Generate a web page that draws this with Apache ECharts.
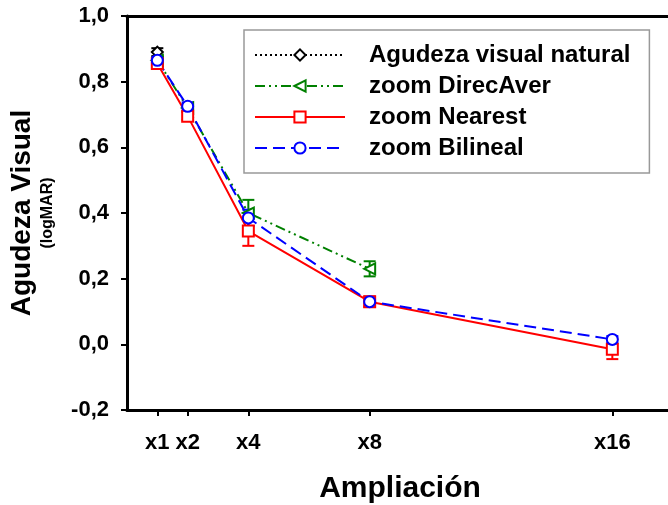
<!DOCTYPE html>
<html>
<head>
<meta charset="utf-8">
<script src="https://cdn.jsdelivr.net/npm/echarts@6/dist/echarts.min.js"></script>
<style>
html, body { margin: 0; padding: 0; background: #fff; }
#main { width: 668px; height: 505px; }
</style>
</head>
<body>
<div id="main"></div>
<script>
// magnification levels (x axis)
var xVals = [1, 2, 4, 8, 16];
var xTicks = [1, 2, 4, 8, 16];
var yTicks = [-0.2, 0, 0.2, 0.4, 0.6, 0.8, 1.0];

// mean logMAR and error (half bar) per series
var naturalY = [0.89];
var naturalErr = [0.012];
var direcY = [0.865, 0.72, 0.40, 0.23];
var direcErr = [0.01, 0.012, 0.04, 0.023];
var nearestY = [0.855, 0.695, 0.345, 0.13, -0.015];
var nearestErr = [0.01, 0.012, 0.045, 0.015, 0.03];
var bilinY = [0.865, 0.725, 0.385, 0.13, 0.015];
var bilinErr = [0.01, 0.012, 0.025, 0.015, 0.01];

var FONT = 'Liberation Sans';

function pts(ys) {
    return ys.map(function (y, i) { return [xVals[i], y]; });
}
function errPts(ys, es) {
    return ys.map(function (y, i) { return [xVals[i], y, es[i]]; });
}

function errSeries(ys, es, color) {
    return {
        type: 'custom',
        silent: true,
        z: 1,
        data: errPts(ys, es),
        renderItem: function (params, api) {
            var x = api.value(0), y = api.value(1), e = api.value(2);
            var top = api.coord([x, y + e]);
            var bot = api.coord([x, y - e]);
            var w = 6;
            var st = { stroke: color, lineWidth: 2 };
            return {
                type: 'group',
                children: [
                    { type: 'line', shape: { x1: top[0], y1: top[1], x2: bot[0], y2: bot[1] }, style: st },
                    { type: 'line', shape: { x1: top[0] - w, y1: top[1], x2: top[0] + w, y2: top[1] }, style: st },
                    { type: 'line', shape: { x1: bot[0] - w, y1: bot[1], x2: bot[0] + w, y2: bot[1] }, style: st }
                ]
            };
        }
    };
}

function lineSeries(name, ys, color, dash, symbol, rot) {
    return {
        name: name,
        type: 'line',
        data: pts(ys),
        symbol: symbol,
        symbolSize: 11,
        symbolRotate: rot || 0,
        showAllSymbol: true,
        z: 3,
        lineStyle: { color: color, width: 2, type: dash },
        itemStyle: { color: '#fff', borderColor: color, borderWidth: 2 }
    };
}

var chart = echarts.init(document.getElementById('main'));

var option = {
    animation: false,
    backgroundColor: '#fff',
    grid: { left: 127, right: -5, top: 16, bottom: 95, outerBoundsMode: 'none', containLabel: false },
    legend: {
        left: 244,
        top: 30,
        orient: 'vertical',
        itemWidth: 90,
        itemHeight: 14,
        itemGap: 7,
        padding: [13, 19, 13, 10],
        borderColor: '#999',
        borderWidth: 1.5,
        textStyle: { fontFamily: FONT, fontWeight: 'bold', fontSize: 24, color: '#000', padding: [0, 0, 0, 19] },
        data: ['Agudeza visual natural', 'zoom DirecAver', 'zoom Nearest', 'zoom Bilineal']
    },
    xAxis: [{
        type: 'value',
        min: 0,
        max: 18,
        splitLine: { show: false },
        axisLine: { onZero: false, lineStyle: { color: '#000', width: 3 } },
        axisTick: { customValues: xTicks, length: 6, lineStyle: { color: '#000', width: 2 } },
        axisLabel: {
            customValues: xTicks,
            formatter: function (v) { return 'x' + v; },
            fontFamily: FONT, fontWeight: 'bold', fontSize: 22, color: '#000', margin: 22
        },
        name: 'Ampliación',
        nameLocation: 'middle',
        nameGap: 64,
        nameTextStyle: { fontFamily: FONT, fontWeight: 'bold', fontSize: 30, color: '#000' }
    }, {
        type: 'value',
        position: 'top',
        min: 0,
        max: 18,
        splitLine: { show: false },
        axisLine: { show: true, onZero: false, lineStyle: { color: '#000', width: 3 } },
        axisTick: { show: false },
        axisLabel: { show: false }
    }],
    yAxis: {
        type: 'value',
        min: -0.2,
        max: 1.0,
        interval: 0.2,
        splitLine: { show: false },
        axisLine: { show: true, onZero: false, lineStyle: { color: '#000', width: 3 } },
        axisTick: { length: 6, lineStyle: { color: '#000', width: 2 } },
        axisLabel: {
            formatter: function (v) { return v.toFixed(1).replace('.', ','); },
            fontFamily: FONT, fontWeight: 'bold', fontSize: 22, color: '#000', margin: 18
        },
        name: '{a|Agudeza Visual}\n{b|(logMAR)}',
        nameLocation: 'middle',
        nameGap: 68,
        nameRotate: 90,
        nameTextStyle: {
            fontFamily: FONT, color: '#000',
            rich: {
                a: { fontFamily: FONT, fontWeight: 'bold', fontSize: 28, color: '#000', lineHeight: 30 },
                b: { fontFamily: FONT, fontWeight: 'bold', fontSize: 16, color: '#000', lineHeight: 22 }
            }
        }
    },
    series: [
        errSeries(naturalY, naturalErr, '#000'),
        errSeries(direcY, direcErr, '#008000'),
        errSeries(nearestY, nearestErr, '#ff0000'),
        errSeries(bilinY, bilinErr, '#0000ff'),
        lineSeries('Agudeza visual natural', naturalY, '#000', [2, 3], 'diamond'),
        lineSeries('zoom DirecAver', direcY, '#008000', [10, 4, 2, 4, 2, 4], 'triangle', 90),
        lineSeries('zoom Nearest', nearestY, '#ff0000', 'solid', 'rect'),
        lineSeries('zoom Bilineal', bilinY, '#0000ff', [12, 6], 'circle')
    ]
};

chart.setOption(option);
window.onresize = function () { chart.resize(); };
</script>
</body>
</html>
